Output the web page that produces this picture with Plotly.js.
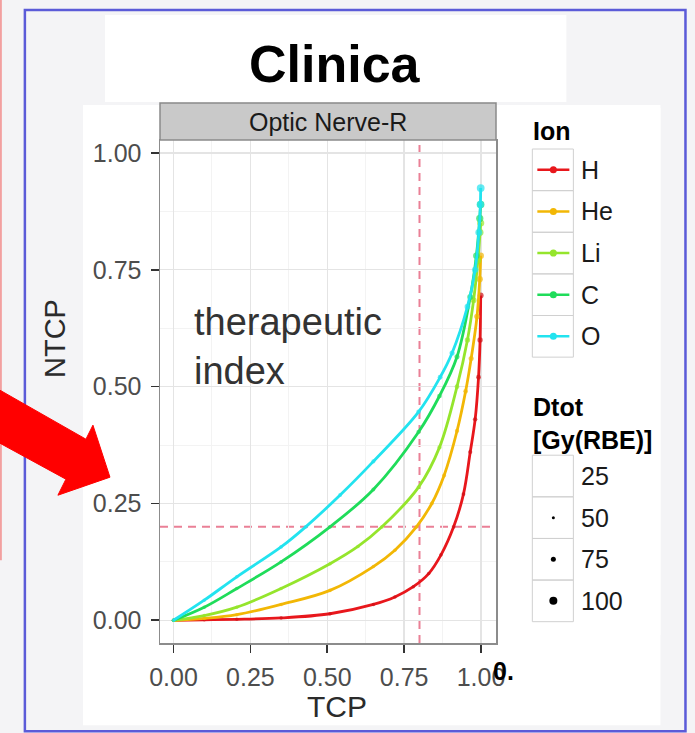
<!DOCTYPE html>
<html><head><meta charset="utf-8">
<script src="https://cdn.plot.ly/plotly-3.0.1.min.js"></script>
<style>html,body{margin:0;padding:0;background:#f4f4f6;}#chart{width:695px;height:733px;}</style>
</head><body><div id="chart"></div>
<script>
// ---------------- data ----------------
const chartTitle = "Clinica";
const panelTitle = "Optic Nerve-R";
const xTitle = "TCP";
const yTitle = "NTCP";
const noteText = "therapeutic<br>index";
const ions = ["H", "He", "Li", "C", "O"];
const legendTitleIon = "Ion";
const legendTitleDose = "Dtot<br>[Gy(RBE)]";
const doseLevels = ["25", "50", "75", "100"];
const tickVals = [0, 0.25, 0.5, 0.75, 1];
const tickText = ["0.00", "0.25", "0.50", "0.75", "1.00"];
const tcpLimit = 0.8;
const ntcpLimit = 0.2;

const tcpH  = [0, 0.1, 0.206, 0.35, 0.509, 0.65, 0.72, 0.78, 0.83, 0.87, 0.911, 0.943, 0.965, 0.981, 0.992, 0.997, 0.999];
const ntcpH = [0, 0.001, 0.002, 0.005, 0.014, 0.034, 0.05, 0.072, 0.1, 0.14, 0.2, 0.27, 0.36, 0.43, 0.52, 0.6, 0.695];
const tcpHe  = [0, 0.1, 0.206, 0.35, 0.509, 0.65, 0.72, 0.79, 0.84, 0.88, 0.922, 0.95, 0.968, 0.987, 0.996, 0.999];
const ntcpHe = [0, 0.004, 0.012, 0.034, 0.064, 0.115, 0.15, 0.2, 0.25, 0.31, 0.405, 0.49, 0.56, 0.65, 0.73, 0.78];
const tcpLi  = [0, 0.1, 0.206, 0.35, 0.509, 0.6, 0.678, 0.797, 0.865, 0.922, 0.956, 0.976, 0.99, 0.997, 0.999];
const ntcpLi = [0, 0.01, 0.028, 0.068, 0.121, 0.158, 0.2, 0.285, 0.37, 0.5, 0.6, 0.685, 0.77, 0.83, 0.85];
const tcpC  = [0, 0.1, 0.206, 0.35, 0.509, 0.65, 0.797, 0.865, 0.922, 0.965, 0.985, 0.996, 0.999];
const ntcpC = [0, 0.028, 0.068, 0.125, 0.2, 0.28, 0.403, 0.48, 0.564, 0.692, 0.78, 0.86, 0.89];
const tcpO  = [0, 0.1, 0.206, 0.35, 0.43, 0.542, 0.65, 0.797, 0.867, 0.906, 0.956, 0.981, 0.993, 0.998, 0.999];
const ntcpO = [0, 0.043, 0.093, 0.157, 0.2, 0.268, 0.34, 0.446, 0.52, 0.572, 0.671, 0.75, 0.83, 0.89, 0.925];

// ---------------- styles ----------------
const ionColors = ["#e8171c", "#f2b705", "#95e52c", "#1fdc5a", "#22e3ef"];
const doseDot = [0, 3, 5, 8];
const FONT = "Liberation Sans, Arial, Helvetica, sans-serif";

const W = 695, H = 733, mL = 160, mR = 199.3, mT = 140, mB = 90.3;
const pw = W - mL - mR, ph = H - mT - mB;
const fx = px => (px - mL) / pw;
const fy = py => (H - mB - py) / ph;

const series = [[tcpH, ntcpH], [tcpHe, ntcpHe], [tcpLi, ntcpLi], [tcpC, ntcpC], [tcpO, ntcpO]];
const traces = series.map((s, i) => ({
  type: "scatter", mode: "lines+markers", name: ions[i],
  x: s[0], y: s[1],
  line: {color: ionColors[i], width: 2.8, shape: "spline", smoothing: 1},
  marker: {color: i === 0 ? "#d01016" : ionColors[i], size: s[1].map(v => 3.5 + 5 * v * v), line: {width: 0}},
  showlegend: false, hoverinfo: "skip"
}));

const shapes = [];
const ann = [];
// background panels
shapes.push({type: "rect", xref: "paper", yref: "paper", layer: "below", x0: fx(83), x1: fx(660), y0: fy(725), y1: fy(105), fillcolor: "#ffffff", line: {width: 0}});
shapes.push({type: "rect", xref: "paper", yref: "paper", layer: "below", x0: fx(105), x1: fx(566), y0: fy(102), y1: fy(15), fillcolor: "#ffffff", line: {width: 0}});
// strip
shapes.push({type: "rect", xref: "paper", yref: "paper", layer: "above", x0: 0, x1: 1, y0: 1, y1: fy(103), fillcolor: "#c9c9c9", line: {color: "#8a8a8a", width: 1.5}});
ann.push({xref: "paper", yref: "paper", x: 0.5, y: fy(122), xanchor: "center", yanchor: "middle", text: panelTitle, showarrow: false, font: {family: FONT, size: 25, color: "#1a1a1a"}});
// reference dashed lines
shapes.push({type: "line", xref: "x", yref: "paper", layer: "between", x0: tcpLimit, x1: tcpLimit, y0: 0, y1: 1, line: {color: "#ea8096", width: 2, dash: "8px,6px"}});
shapes.push({type: "line", xref: "paper", yref: "y", layer: "between", x0: 0, x1: 1, y0: ntcpLimit, y1: ntcpLimit, line: {color: "#ea8096", width: 2, dash: "8px,6px"}});
// blue frame & red edge
shapes.push({type: "rect", xref: "paper", yref: "paper", layer: "above", x0: fx(25), x1: fx(685), y0: fy(731), y1: fy(10), line: {color: "#5b5bd8", width: 2.5}});
shapes.push({type: "line", xref: "paper", yref: "paper", layer: "above", x0: fx(1), x1: fx(1), y0: fy(0), y1: fy(560), line: {color: "#f2a0a0", width: 2}});
// red arrow
const arrowPts = [[0, 390], [86, 439], [93, 425], [110, 477], [58, 495], [66, 479], [0, 443]];
shapes.push({type: "path", xref: "paper", yref: "paper", layer: "above",
  path: "M " + arrowPts.map(p => fx(p[0]) + "," + fy(p[1])).join(" L ") + " Z",
  fillcolor: "#ff0000", line: {color: "#ff0000", width: 1}});

// title
ann.push({xref: "paper", yref: "paper", x: fx(335), y: fy(64), xanchor: "center", yanchor: "middle", text: "<b>" + chartTitle + "</b>", showarrow: false, font: {family: FONT, size: 52, color: "#000000"}});
// axis titles
ann.push({xref: "paper", yref: "paper", x: fx(337), y: fy(706), xanchor: "center", yanchor: "middle", text: xTitle, showarrow: false, font: {family: FONT, size: 30, color: "#2b2b2b"}});
ann.push({xref: "paper", yref: "paper", x: fx(55), y: fy(338), xanchor: "center", yanchor: "middle", textangle: -90, text: yTitle, showarrow: false, font: {family: FONT, size: 29, color: "#2b2b2b"}});
// note
ann.push({xref: "paper", yref: "paper", x: fx(192), y: fy(346), xanchor: "left", yanchor: "middle", align: "left", text: noteText, showarrow: false, font: {family: FONT, size: 38, color: "#333333"}});
// stray overlay glyph
ann.push({xref: "paper", yref: "paper", x: fx(491), y: fy(671), xanchor: "left", yanchor: "middle", text: "<b>0.</b>", showarrow: false, font: {family: FONT, size: 25, color: "#000000"}});

// legends
shapes.push({type: "rect", xref: "paper", yref: "paper", layer: "below", x0: fx(520), x1: fx(660), y0: fy(635), y1: fy(108), fillcolor: "#ffffff", line: {width: 0}});
ann.push({xref: "paper", yref: "paper", x: fx(531), y: fy(131), xanchor: "left", yanchor: "middle", text: "<b>" + legendTitleIon + "</b>", showarrow: false, font: {family: FONT, size: 25, color: "#000000"}});
const rowH = 41.6;
ions.forEach((name, i) => {
  const top = 149 + rowH * i, cy = top + rowH / 2;
  shapes.push({type: "rect", xref: "paper", yref: "paper", layer: "above", x0: fx(532), x1: fx(573), y0: fy(top + rowH), y1: fy(top), fillcolor: "rgba(255,255,255,0)", line: {color: "#d0d0d0", width: 1}});
  shapes.push({type: "line", xref: "paper", yref: "paper", layer: "above", x0: fx(537), x1: fx(569), y0: fy(cy), y1: fy(cy), line: {color: ionColors[i], width: 2.6}});
  shapes.push({type: "circle", xref: "paper", yref: "paper", layer: "above", xsizemode: "pixel", ysizemode: "pixel", xanchor: fx(553), yanchor: fy(cy), x0: -3.5, x1: 3.5, y0: -3.5, y1: 3.5, fillcolor: ionColors[i], line: {width: 0}});
  ann.push({xref: "paper", yref: "paper", x: fx(579), y: fy(cy), xanchor: "left", yanchor: "middle", text: name, showarrow: false, font: {family: FONT, size: 25, color: "#1a1a1a"}});
});
ann.push({xref: "paper", yref: "paper", x: fx(531), y: fy(423), xanchor: "left", yanchor: "middle", align: "left", text: "<b>" + legendTitleDose + "</b>", showarrow: false, font: {family: FONT, size: 25, color: "#000000"}});
doseLevels.forEach((name, i) => {
  const top = 455 + rowH * i, cy = top + rowH / 2;
  shapes.push({type: "rect", xref: "paper", yref: "paper", layer: "above", x0: fx(532), x1: fx(573), y0: fy(top + rowH), y1: fy(top), fillcolor: "rgba(255,255,255,0)", line: {color: "#d0d0d0", width: 1}});
  if (doseDot[i] > 0) {
    const r = doseDot[i] / 2;
    shapes.push({type: "circle", xref: "paper", yref: "paper", layer: "above", xsizemode: "pixel", ysizemode: "pixel", xanchor: fx(553), yanchor: fy(cy), x0: -r, x1: r, y0: -r, y1: r, fillcolor: "#000000", line: {width: 0}});
  }
  ann.push({xref: "paper", yref: "paper", x: fx(579), y: fy(cy), xanchor: "left", yanchor: "middle", text: name, showarrow: false, font: {family: FONT, size: 25, color: "#1a1a1a"}});
});

const axisCommon = {
  tickvals: tickVals, ticktext: tickText, ticks: "outside", ticklen: 8, tickwidth: 1.6, tickcolor: "#333333",
  tickfont: {family: FONT, size: 25, color: "#4d4d4d"},
  showline: true, mirror: true, linecolor: "#8c8c8c", linewidth: 1.5,
  showgrid: true, gridcolor: "#e4e4e4", gridwidth: 1.3, zeroline: false, fixedrange: true,
  minor: {tickvals: [0.125, 0.375, 0.625, 0.875], showgrid: true, gridcolor: "#f3f3f3", gridwidth: 1, ticks: ""}
};

const layout = {
  width: W, height: H, autosize: false,
  margin: {l: mL, r: mR, t: mT, b: mB, pad: 0},
  paper_bgcolor: "#f4f4f6", plot_bgcolor: "#ffffff",
  font: {family: FONT},
  showlegend: false,
  xaxis: Object.assign({}, axisCommon, {range: [-0.0439, 1.0488], ticklabelstandoff: 3}),
  yaxis: Object.assign({}, axisCommon, {range: [-0.0486, 1.0278], ticklabelstandoff: 4}),
  shapes: shapes, annotations: ann
};
Plotly.newPlot("chart", traces, layout, {staticPlot: true, displayModeBar: false});
</script></body></html>
